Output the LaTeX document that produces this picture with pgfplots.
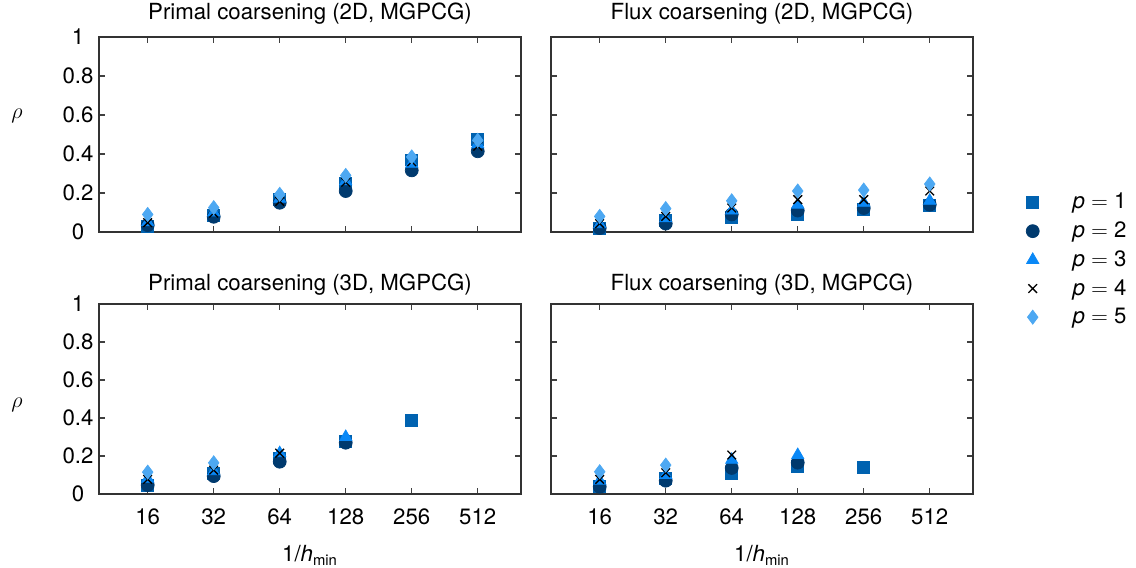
\documentclass[border=0pt]{standalone}
\usepackage{fontspec}
\setmainfont{TeX Gyre Heros}
\usepackage{pgfplots}
\pgfplotsset{compat=1.18}

\definecolor{c1}{HTML}{0062B0}
\definecolor{c2}{HTML}{003A6E}
\definecolor{c3}{HTML}{0A88F6}
\definecolor{c5}{HTML}{4DA8F2}

\pgfplotsset{
  panel/.style={
    scale only axis, width=227.9pt,
    xmin=-0.738, xmax=5.656, ymin=0, ymax=1,
    xtick={0,1,2,3,4,5}, xticklabels={16,32,64,128,256,512},
    ytick={0,0.2,0.4,0.6,0.8,1},
    xtick pos=both, ytick pos=both, tick align=inside,
    major tick length=3.3pt,
    axis line style={line width=0.9pt, black!80},
    tick style={line width=0.8pt, black!75},
    /pgf/number format/assume math mode=true,
    ticklabel style={font=\fontsize{12}{14}\selectfont},
    yticklabel style={anchor=center, xshift=-11.3pt},
    xticklabel style={anchor=base, yshift=-16.3pt},
    title style={anchor=base, at={(axis description cs:0.5,1)}, font=\fontsize{12}{14}\selectfont},
    xlabel style={at={(axis description cs:0.5,0)}, anchor=base, yshift=-36.7pt, font=\fontsize{12}{14}\selectfont},
    ylabel style={at={(axis description cs:0,0.5)}, rotate=-90, anchor=center, xshift=-44.3pt, font=\fontsize{13}{14}\selectfont},
  },
  s1/.style={only marks, mark=square*, mark size=3.2pt, color=c1},
  s2/.style={only marks, mark=*, mark size=3.5pt, color=c2},
  s3/.style={only marks, mark=triangle*, mark size=3.8pt, color=c3},
  s4/.style={only marks, mark=x, mark size=3.3pt, color=black, mark options={line width=0.7pt}},
  s5/.style={only marks, mark=diamond*, mark size=3.8pt, color=c5},
}

\begin{document}
\begin{tikzpicture}
\useasboundingbox (0,0) rectangle (613.44pt,-306.72pt);

% top left: primal 2D
\begin{axis}[panel, height=105.3pt, at={(53.46pt,-19.98pt)}, anchor=north west,
  title={Primal coarsening (2D, MGPCG)}, title style={yshift=3.7pt},
  xticklabels={}, ylabel={$\rho$}, ylabel style={yshift=10.3pt}]
\addplot[s1] coordinates {(0,0.027) (1,0.087) (2,0.166) (3,0.25) (4,0.37) (5,0.475)};
\addplot[s2] coordinates {(0,0.035) (1,0.078) (2,0.15) (3,0.21) (4,0.316) (5,0.414)};
\addplot[s3] coordinates {(0,0.05) (1,0.10) (2,0.17) (3,0.26) (4,0.35) (5,0.45)};
\addplot[s4] coordinates {(0,0.048) (1,0.097) (2,0.157) (3,0.255) (4,0.36) (5,0.44)};
\addplot[s5] coordinates {(0,0.09) (1,0.125) (2,0.193) (3,0.29) (4,0.385) (5,0.47)};
\end{axis}

% top right: flux 2D
\begin{axis}[panel, height=105.3pt, at={(297.54pt,-19.98pt)}, anchor=north west,
  title={Flux coarsening (2D, MGPCG)}, title style={yshift=3.7pt},
  xticklabels={}, yticklabels={},
  legend style={draw=none, fill=none, at={(1.123,0.22)}, anchor=north west,
    font=\fontsize{12}{14}\selectfont, row sep=1.5pt, inner sep=0pt},
  legend cell align=left,
  legend image code/.code={\path[draw=none, fill=none] (-4pt,0pt) -- (19.5pt,0pt); \draw[#1] plot coordinates {(0pt,0pt)};}]
\addplot[s1] coordinates {(0,0.017) (1,0.058) (2,0.077) (3,0.09) (4,0.118) (5,0.135)};
\addlegendentry{\textit{p} $=$ 1}
\addplot[s2] coordinates {(0,0.02) (1,0.043) (2,0.09) (3,0.11) (4,0.123) (5,0.14)};
\addlegendentry{\textit{p} $=$ 2}
\addplot[s3] coordinates {(0,0.04) (1,0.07) (2,0.11) (3,0.14) (4,0.15) (5,0.16)};
\addlegendentry{\textit{p} $=$ 3}
\addplot[s4] coordinates {(0,0.043) (1,0.08) (2,0.123) (3,0.166) (4,0.166) (5,0.21)};
\addlegendentry{\textit{p} $=$ 4}
\addplot[s5] coordinates {(0,0.08) (1,0.12) (2,0.16) (3,0.21) (4,0.215) (5,0.246)};
\addlegendentry{\textit{p} $=$ 5}
\end{axis}

% bottom left: primal 3D
\begin{axis}[panel, height=102.6pt, at={(53.46pt,-164.16pt)}, anchor=north west,
  title={Primal coarsening (3D, MGPCG)}, title style={yshift=1.3pt},
  ylabel={$\rho$}, ylabel style={yshift=-3.2pt}, xlabel={1/\textit{h}\textsubscript{min}}]
\addplot[s1] coordinates {(0,0.047) (1,0.107) (2,0.19) (3,0.275) (4,0.388)};
\addplot[s2] coordinates {(0,0.047) (1,0.094) (2,0.17) (3,0.27)};
\addplot[s3] coordinates {(0,0.08) (1,0.12) (2,0.215) (3,0.30)};
\addplot[s4] coordinates {(0,0.077) (1,0.126) (2,0.215)};
\addplot[s5] coordinates {(0,0.115) (1,0.164)};
\end{axis}

% bottom right: flux 3D
\begin{axis}[panel, height=102.6pt, at={(297.54pt,-164.16pt)}, anchor=north west,
  title={Flux coarsening (3D, MGPCG)}, title style={yshift=1.3pt},
  yticklabels={}, xlabel={1/\textit{h}\textsubscript{min}}]
\addplot[s1] coordinates {(0,0.042) (1,0.08) (2,0.11) (3,0.144) (4,0.142)};
\addplot[s2] coordinates {(0,0.038) (1,0.07) (2,0.137) (3,0.165)};
\addplot[s3] coordinates {(0,0.07) (1,0.10) (2,0.18) (3,0.205)};
\addplot[s4] coordinates {(0,0.077) (1,0.112) (2,0.205)};
\addplot[s5] coordinates {(0,0.117) (1,0.152)};
\end{axis}
\end{tikzpicture}
\end{document}
